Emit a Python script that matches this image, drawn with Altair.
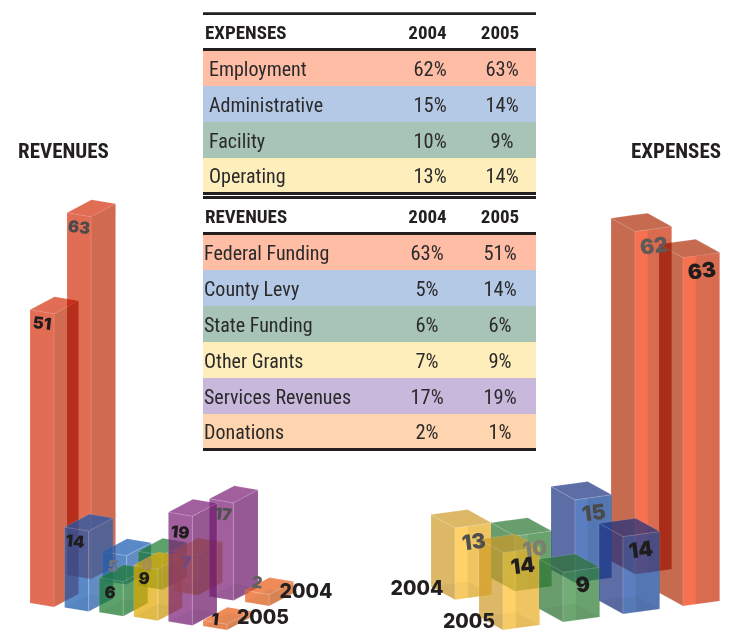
import altair as alt
import pandas as pd

# ---------- values ----------
EXPENSE_NAMES = ["Employment", "Administrative", "Facility", "Operating"]
EXPENSE_2004 = [62, 15, 10, 13]
EXPENSE_2005 = [63, 14, 9, 14]
REVENUE_NAMES = ["Federal Funding", "County Levy", "State Funding", "Other Grants", "Services Revenues", "Donations"]
REVENUE_2004 = [63, 5, 6, 7, 17, 2]
REVENUE_2005 = [51, 14, 6, 9, 19, 1]
YEARS = ["2004", "2005"]

# ---------- styles and layout ----------
FONT_N = "Roboto Condensed"
FONT_H = "Inter"
BAND = {"red": "#FFBDA5", "blue": "#B4C9E6", "green": "#A8C4B7", "yellow": "#FDEEBB", "purple": "#C8B8DC", "orange": "#FFD5B0"}
HUES_REV = ["red", "blue", "green", "yellow", "purple", "orange"]
HUES_EXP = ["red", "blue", "green", "yellow"]
# on-white tones: (left-chart F1, left-chart F2, right-chart F1, right-chart F2)
TONE = {
    "red": ("#E26D54", "#E26D54", "#C66B50", "#F87050"),
    "blue": ("#5B8AC9", "#6A97D2", "#5F6EA6", "#5B7FC0"),
    "green": ("#5FA36B", "#66AA72", "#6B9E6F", "#72AE76"),
    "yellow": ("#EBC24A", "#EFC85A", "#DDB968", "#FFD36A"),
    "purple": ("#A2609F", "#A2609F", "#A2609F", "#A2609F"),
    "orange": ("#EE8C5A", "#EE9460", "#EE8C5A", "#EE8C5A"),
}
ALPHA = 0.7
RED_ALPHA = 0.92


def through_alpha(hexcol, a):
    rgb = [int(hexcol[i:i + 2], 16) for i in (1, 3, 5)]
    out = [max(0, min(255, round((c - (1 - a) * 255) / a))) for c in rgb]
    return "#%02x%02x%02x" % tuple(out)


def upper_lower(points, x):
    def chain(a, b, c):
        for p, q in ((a, b), (b, c)):
            if p[0] <= x <= q[0] and q[0] > p[0]:
                return p[1] + (q[1] - p[1]) * (x - p[0]) / (q[0] - p[0])
        return c[1]
    L, B, R, F = points
    return chain(L, B, R), chain(L, F, R)


face_rows = []
face_id = [0]


def add_vertical(rows_key, a, b, h, fill, op):
    fid = face_id[0]; face_id[0] += 1
    for p in (a, b):
        face_rows.append(dict(layer=rows_key, face=fid, x=p[0], y=p[1] - h, y2=p[1], fill=fill, op=op))


def add_flat(rows_key, pts, fill, op):
    fid = face_id[0]; face_id[0] += 1
    for x in sorted({p[0] for p in pts}):
        up, lo = upper_lower(pts, x)
        face_rows.append(dict(layer=rows_key, face=fid, x=x, y=up, y2=lo, fill=fill, op=op))


def on_line(a, b, x):
    return (x, a[1] + (b[1] - a[1]) * (x - a[0]) / (b[0] - a[0]))


def box(chart, hue, x0, y0, value):
    left = chart == "left"
    unit = 5.75 if left else 5.53
    f = (24, 4) if left else (24, 13.3)
    b = (24.6, -13) if left else (36.7, -5)
    h = value * unit
    L = (x0, y0); F = (x0 + f[0], y0 + f[1]); B = (x0 + b[0], y0 + b[1]); R = (x0 + f[0] + b[0], y0 + f[1] + b[1])
    t = TONE[hue]
    t1, t2 = (t[0], t[1]) if left else (t[2], t[3])
    red = hue == "red"
    key = "multiply" if red else "normal"
    a = RED_ALPHA if red else ALPHA
    c1, c2 = through_alpha(t1, a), through_alpha(t2, a)
    top = lambda p: (p[0], p[1] - h)
    add_vertical(key, L, F, h, c1, a)
    add_vertical(key, F, R, h, c2, a)
    add_flat(key, (top(L), top(B), top(R), top(F)), c1, a)   # lid
    add_flat(key, (L, B, R, F), "#FFFFFF" if red else "#000000", 0.0 if red else 0.03)   # floor
    # darker tone where the far wall shows through the near wall
    S = on_line(F, R, B[0])
    if red:
        add_vertical(key, S, R, h, "#ECF8F5" if left else "#E0F5FF", 1.0)
    else:
        add_vertical(key, S, R, h, "#000000", 0.06)


# left chart: back row is 2004, front row is 2005
for i, (hue, val) in enumerate(zip(HUES_REV, REVENUE_2004)):
    box("left", hue, 67 + 35.6 * i, 575 + 5.4 * i, val)
for i, (hue, val) in enumerate(zip(HUES_REV, REVENUE_2005)):
    box("left", hue, 30 + 34.6 * i, 603 + 4.6 * i, val)
# right chart: runs operating -> employment
for i, j in enumerate([3, 2, 1, 0]):
    box("right", HUES_EXP[j], 431 + 60 * i, 586.5 - 8.5 * i, EXPENSE_2004[j])
for i, j in enumerate([3, 2, 1, 0]):
    box("right", HUES_EXP[j], 479 + 60 * i, 616.7 - 8 * i, EXPENSE_2005[j])

faces = pd.DataFrame(face_rows)

XS = alt.Scale(domain=[8, 725], nice=False, zero=False)
YS = alt.Scale(domain=[635, 8], nice=False, zero=False)
X = alt.X("x:Q", scale=XS, axis=None)
Y = alt.Y("y:Q", scale=YS, axis=None)

# ---------- table ----------
TL, TR = 203, 536
bands = []
exp_edges = [51, 86, 122, 158, 192]
rev_edges = [235, 270, 306, 342, 378, 414, 448]
for i, hue in enumerate(HUES_EXP):
    bands.append(dict(x=TL, x2=TR, y=exp_edges[i], y2=exp_edges[i + 1], fill=BAND[hue]))
for i, hue in enumerate(HUES_REV):
    bands.append(dict(x=TL, x2=TR, y=rev_edges[i], y2=rev_edges[i + 1], fill=BAND[hue]))
for top_, bot in [(12.3, 15), (48, 51), (192, 195), (196, 199), (232, 235), (448, 451)]:
    bands.append(dict(x=TL, x2=TR, y=top_, y2=bot, fill="#231F20"))
bands_df = pd.DataFrame(bands)
band_layer = alt.Chart(bands_df).mark_rect(strokeWidth=0).encode(
    x=X, x2="x2:Q", y=Y, y2="y2:Q", color=alt.Color("fill:N", scale=None))

reg = []
for i, name in enumerate(EXPENSE_NAMES):
    yc = (exp_edges[i] + exp_edges[i + 1]) / 2 + 1.7
    reg.append(dict(x=209, y=yc, t=name, a="left"))
    reg.append(dict(x=430, y=yc, t=f"{EXPENSE_2004[i]}%", a="center"))
    reg.append(dict(x=502, y=yc, t=f"{EXPENSE_2005[i]}%", a="center"))
for i, name in enumerate(REVENUE_NAMES):
    yc = (rev_edges[i] + rev_edges[i + 1]) / 2 + 1.7
    reg.append(dict(x=204, y=yc, t=name, a="left"))
    reg.append(dict(x=427, y=yc, t=f"{REVENUE_2004[i]}%", a="center"))
    reg.append(dict(x=500, y=yc, t=f"{REVENUE_2005[i]}%", a="center"))
reg_df = pd.DataFrame(reg)


def text_layer(df, align, font, size, color="#2B2A2B", weight="normal"):
    d = df[df.a == align] if "a" in df else df
    return alt.Chart(d).mark_text(font=font, fontSize=size, fontWeight=weight, color=color, align=align, baseline="middle").encode(
        x=X, y=Y, text="t:N")


heads = pd.DataFrame([
    dict(x=205, y=32.5, t="EXPENSES", a="left"), dict(x=205, y=216.5, t="REVENUES", a="left"),
    dict(x=427.5, y=32.5, t=YEARS[0], a="center"), dict(x=500, y=32.5, t=YEARS[1], a="center"),
    dict(x=427.5, y=216.5, t=YEARS[0], a="center"), dict(x=500, y=216.5, t=YEARS[1], a="center"),
])
titles = pd.DataFrame([dict(x=63.5, y=152, t="REVENUES", a="center"), dict(x=676, y=152, t="EXPENSES", a="center")])

# ---------- numbers on the bars ----------
nums = []
L_POS_04 = [(79, 228, "#4a4a4a"), (113, 567, "#6f7580"), (147, 565, "#a98c58"), (186, 563, "#6f4a7e"), (223, 515, "#505050"), (257, 583, "#606060")]
L_POS_05 = [(42, 324, "#1f1c1d"), (75, 542, "#1f1c1d"), (110, 593, "#1f1c1d"), (144, 579, "#1f1c1d"), (180, 533, "#1f1c1d"), (215, 620, "#1f1c1d")]
R_POS_04 = [(654, 247, "#5e5a58"), (594, 514, "#4a4a4a"), (535, 550, "#7d7d70"), (474, 543, "#4f4f4f")]
R_POS_05 = [(702, 272, "#1f1c1d"), (641, 551, "#1f1c1d"), (583, 586, "#1f1c1d"), (523, 567, "#1f1c1d")]
for vals, pos, size, ang in [(REVENUE_2004, L_POS_04, 16.5, 6), (REVENUE_2005, L_POS_05, 16.5, 6),
                             (EXPENSE_2004, R_POS_04, 21, 353), (EXPENSE_2005, R_POS_05, 21, 353)]:
    for v, (x, y, c) in zip(vals, pos):
        nums.append(dict(x=x, y=y, t=str(v), c=c, s=size, ang=ang))
nums_df = pd.DataFrame(nums)
num_layer = alt.Chart(nums_df).mark_text(font=FONT_H, fontWeight=900, align="center", baseline="middle").encode(
    x=X, y=Y, text="t:N", color=alt.Color("c:N", scale=None), size=alt.Size("s:Q", scale=None), angle=alt.Angle("ang:Q", scale=None))

yr_df = pd.DataFrame([
    dict(x=306, y=592, t=YEARS[0]), dict(x=263, y=618, t=YEARS[1]),
    dict(x=417, y=589, t=YEARS[0]), dict(x=469, y=622, t=YEARS[1]),
])
yr_layer = alt.Chart(yr_df).mark_text(font=FONT_H, fontWeight=800, fontSize=19.5, color="#231F20", align="center", baseline="middle").encode(
    x=X, y=Y, text="t:N")


def face_layer(key, blend=None):
    d = faces[faces.layer == key]
    kw = dict(stroke="#FFFFFF", strokeWidth=0.5, strokeOpacity=0.3)
    if blend:
        kw["blend"] = blend
    return alt.Chart(d).mark_area(**kw).encode(
        x=X, y=Y, y2="y2:Q", detail="face:N",
        color=alt.Color("fill:N", scale=None), opacity=alt.Opacity("op:Q", scale=None))


chart = alt.layer(
    band_layer,
    text_layer(reg_df, "left", FONT_N, 20),
    text_layer(reg_df, "center", FONT_N, 20.5),
    text_layer(heads, "left", FONT_N, 19, "#231F20", "bold"),
    text_layer(heads, "center", FONT_N, 19, "#231F20", "bold"),
    text_layer(titles, "center", FONT_N, 21, "#231F20", "bold"),
    face_layer("multiply", "multiply"),
    face_layer("normal"),
    num_layer,
    yr_layer,
).properties(width=717, height=627, padding=0, background="#FFFFFF",
             autosize=alt.AutoSizeParams(type="none")).configure_view(strokeWidth=0)

chart.save("out.html", embed_options={"renderer": "svg", "actions": False})
